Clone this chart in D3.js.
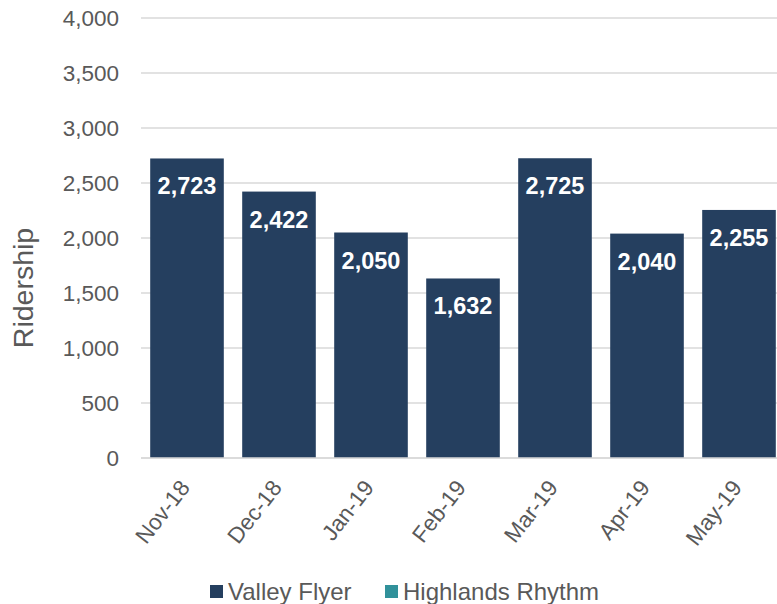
<!DOCTYPE html>
<html>
<head>
<meta charset="utf-8">
<script src="https://cdn.jsdelivr.net/npm/d3@7"></script>
<style>
  body { margin: 0; background: #fff; }
  text { font-family: "Liberation Sans", Arial, sans-serif; }
</style>
</head>
<body>
<div id="viz"></div>
<script>
// chart data
var months = ['Nov-18', 'Dec-18', 'Jan-19', 'Feb-19', 'Mar-19', 'Apr-19', 'May-19'];
var valleyFlyer = [2723, 2422, 2050, 1632, 2725, 2040, 2255];
var seriesNames = ['Valley Flyer', 'Highlands Rhythm'];
var seriesColors = ['#253f5f', '#31919a'];
var yTicks = [0, 500, 1000, 1500, 2000, 2500, 3000, 3500, 4000];

var svg = d3.select('#viz').append('svg')
  .attr('width', 777)
  .attr('height', 604);

// scales
var x = d3.scaleBand().domain(months).range([141, 785]).paddingInner(0.2).paddingOuter(0.1);
var y = d3.scaleLinear().domain([0, 4000]).range([458, 18]);

// gridlines
svg.append('g').selectAll('line')
  .data(yTicks)
  .enter().append('line')
  .attr('x1', 141).attr('x2', 777)
  .attr('y1', function(d) { return y(d); })
  .attr('y2', function(d) { return y(d); })
  .attr('stroke', '#d9d9d9')
  .attr('stroke-width', 1.5);

// y axis labels
var yAxis = svg.append('g')
  .attr('transform', 'translate(129,0)')
  .call(d3.axisLeft(y).tickValues(yTicks).tickFormat(d3.format(',')).tickSize(0).tickPadding(10));
yAxis.select('.domain').remove();
yAxis.selectAll('text')
  .attr('fill', '#595959')
  .style('font-size', '22.5px')
  .style('font-family', '"Liberation Sans", Arial, sans-serif');

// y axis title
svg.append('text')
  .attr('transform', 'translate(33,288) rotate(-90)')
  .attr('text-anchor', 'middle')
  .attr('fill', '#595959')
  .style('font-size', '28.5px')
  .text('Ridership');

// bars
svg.append('g').selectAll('rect')
  .data(valleyFlyer)
  .enter().append('rect')
  .attr('x', function(d, i) { return x(months[i]); })
  .attr('y', function(d) { return y(d); })
  .attr('width', x.bandwidth())
  .attr('height', function(d) { return y(0) - y(d); })
  .attr('fill', seriesColors[0]);

// value labels
svg.append('g').selectAll('text')
  .data(valleyFlyer)
  .enter().append('text')
  .attr('x', function(d, i) { return x(months[i]) + x.bandwidth() / 2; })
  .attr('y', function(d) { return y(d) + 36; })
  .attr('text-anchor', 'middle')
  .attr('fill', '#ffffff')
  .style('font-size', '23.5px')
  .style('font-weight', 'bold')
  .text(function(d) { return d3.format(',')(d); });

// x axis line
svg.append('line')
  .attr('x1', 141).attr('x2', 777)
  .attr('y1', y(0)).attr('y2', y(0))
  .attr('stroke', '#d9d9d9')
  .attr('stroke-width', 1.5);

// x axis labels, rotated
svg.append('g').selectAll('text')
  .data(months)
  .enter().append('text')
  .attr('transform', function(d) {
    return 'translate(' + (x(d) + x.bandwidth() / 2 + 4) + ',' + 488 + ') rotate(-52)';
  })
  .attr('text-anchor', 'end')
  .attr('fill', '#595959')
  .style('font-size', '22.5px')
  .text(function(d) { return d; });

// legend
var legendX = [210, 385];
var legend = svg.append('g').selectAll('g')
  .data(seriesNames)
  .enter().append('g')
  .attr('transform', function(d, i) { return 'translate(' + legendX[i] + ',585)'; });
legend.append('rect')
  .attr('width', 13).attr('height', 13)
  .attr('fill', function(d, i) { return seriesColors[i]; });
legend.append('text')
  .attr('x', 18).attr('y', 15)
  .attr('fill', '#595959')
  .style('font-size', '24px')
  .text(function(d) { return d; });
</script>
</body>
</html>
